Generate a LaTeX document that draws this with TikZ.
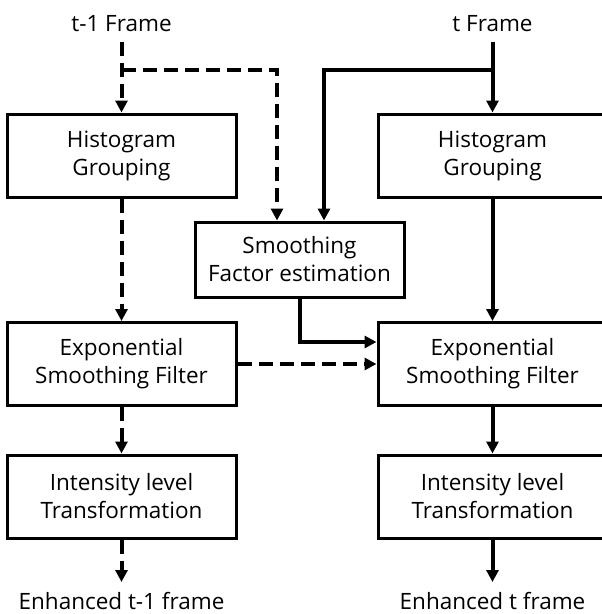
\documentclass[tikz,border=0pt]{standalone}
\usepackage{fontspec}
\setmainfont{Open Sans}
\usepackage{tikz}
\usetikzlibrary{positioning, arrows.meta}

\begin{document}
\begin{tikzpicture}[x=1pt, y=-1pt, >={Triangle[length=12pt,width=12pt]}, line width=4pt,
  box/.style={draw, line width=3pt, minimum width=229pt, minimum height=83pt,
    align=center, inner sep=0pt, font=\fontsize{22.5}{28}\selectfont},
  lbl/.style={anchor=base, inner sep=0pt, font=\fontsize{22.5}{28}\selectfont},
  prev/.style={dash pattern=on 14pt off 7pt}]

\useasboundingbox (0,0) rectangle (602,614);

% ---------- frame inputs ----------
\node[lbl] (inp) at (121.5,31) {t-1 Frame};
\node[lbl] (inc) at (492.5,31) {t Frame};

% ---------- t-1 column ----------
\node[box] (hgp) at (121.5,155.5) {Histogram\\Grouping};
\node[box] (esp) at (121.5,364)   {Exponential\\Smoothing Filter};
\node[box] (itp) at (121.5,496.5) {Intensity level\\Transformation};

% ---------- t column ----------
\node[box] (hgc) at (492.5,155.5) {Histogram\\Grouping};
\node[box] (esc) at (492.5,364)   {Exponential\\Smoothing Filter};
\node[box] (itc) at (492.5,496.5) {Intensity level\\Transformation};

% ---------- smoothing factor ----------
\node[box, minimum width=209pt, minimum height=75pt] (sfe) at (299.5,259.5)
  {Smoothing\\Factor estimation};

% ---------- outputs ----------
\node[lbl] (outp) at (121.5,609) {Enhanced t-1 frame};
\node[lbl] (outc) at (492.5,609) {Enhanced t frame};

\coordinate (sp) at (121.5,42);  % t-1 start
\coordinate (bp) at (121.5,70);  % t-1 branch
\coordinate (ep) at (121.5,582); % t-1 end
\coordinate (sc) at (492.5,42);  % t start
\coordinate (bc) at (492.5,70);  % t branch
\coordinate (ec) at (492.5,582); % t end

% ---------- t-1 path (dashed) ----------
\draw[prev,->] (sp) -- (hgp.north);
\draw[prev,->] (bp) -| ([xshift=-22.5pt]sfe.north);
\draw[prev,->] (hgp.south) -- (esp.north);
\draw[prev,->] (esp.south) -- (itp.north);
\draw[prev,->] (itp.south) -- (ep);
\draw[prev,->] (esp.east) -- (esc.west);

% ---------- t path (solid) ----------
\draw[->] (sc) -- (hgc.north);
\draw[->] (bc) -| ([xshift=24.5pt]sfe.north);
\draw[->] (hgc.south) -- (esc.north);
\draw[->] (esc.south) -- (itc.north);
\draw[->] (itc.south) -- (ec);
\draw[->] (sfe.south) |- ([yshift=22pt]esc.west);

\end{tikzpicture}
\end{document}
